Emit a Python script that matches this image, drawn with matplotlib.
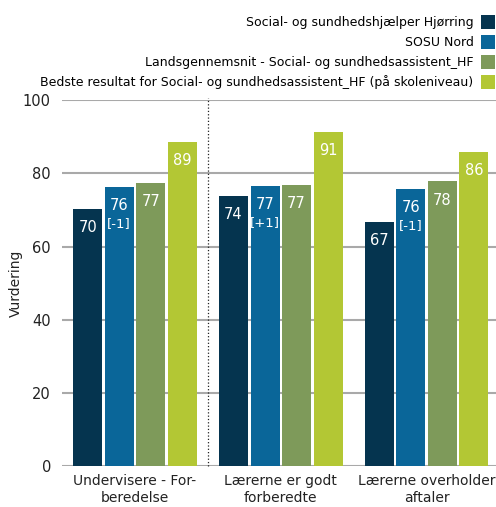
import matplotlib.pyplot as plt
import numpy as np

# data
categories = ["Undervisere - For-\nberedelse", "Lærerne er godt\nforberedte", "Lærerne overholder\naftaler"]
series = [
	"Social- og sundhedshjælper Hjørring",
	"SOSU Nord",
	"Landsgennemsnit - Social- og sundhedsassistent_HF",
	"Bedste resultat for Social- og sundhedsassistent_HF (på skoleniveau)",
]
hjorring = [70.3, 73.9, 66.8]
sosu_nord = [76.4, 76.6, 75.8]
lands = [77.5, 76.9, 77.8]
bedste = [88.7, 91.4, 85.9]
# printed labels on the bars
hjorring_lbl = [70, 74, 67]
sosu_nord_lbl = [76, 77, 76]
lands_lbl = [77, 77, 78]
bedste_lbl = [89, 91, 86]
sosu_change = ["[-1]", "[+1]", "[-1]"]

colors = ['#05344F', '#0A6699', '#7E9A5A', '#B3C734']
values = [hjorring, sosu_nord, lands, bedste]
labels = [hjorring_lbl, sosu_nord_lbl, lands_lbl, bedste_lbl]

fig = plt.figure(figsize=(4.96, 5.07), dpi=100)
ax = fig.add_axes([0.125, 0.0815, 0.875, 0.7205])

x = np.arange(len(categories))
pitch = 0.216
width = 0.199
for i, (vals, lbls, col, name) in enumerate(zip(values, labels, colors, series)):
	pos = x + (i - 1.5) * pitch
	ax.bar(pos, vals, width, color=col, label=name, zorder=3)
	for j, v in enumerate(vals):
		ax.annotate(f"{lbls[j]}", (pos[j], v), xytext=(0, -13.5), textcoords='offset points',
			ha='center', va='center', color='white', fontsize=10.5, zorder=4)
		if i == 1:
			ax.annotate(sosu_change[j], (pos[j], v), xytext=(0, -26.5), textcoords='offset points',
				ha='center', va='center', color='white', fontsize=9.5, zorder=4)

ax.set_xlim(-0.5, 2.475)
ax.set_ylim(0, 100)
ax.set_yticks([0, 20, 40, 60, 80, 100])
ax.set_xticks(x)
ax.set_xticklabels(categories, fontsize=10, color='#222222', linespacing=1.3)
ax.tick_params(axis='y', labelsize=10.5, length=0, pad=8, colors='#222222')
ax.tick_params(axis='x', length=0, pad=6)
ax.set_ylabel("Vurdering", fontsize=10, color='#222222')
ax.yaxis.set_label_coords(-0.09, 0.5)
ax.grid(axis='y', color='#A9A9A9', linewidth=1.5, zorder=0)
for s in ax.spines.values():
	s.set_visible(False)

# dotted separator between first and second group
ax.plot([0.5, 0.5], [0, 100.7], color='#222222', linestyle=':', linewidth=0.9, clip_on=False, zorder=2)

ax.legend(loc='upper right', bbox_to_anchor=(1.02, 0.992), bbox_transform=fig.transFigure,
	markerfirst=False, frameon=False, fontsize=9.0, handlelength=1.1, handleheight=1.3,
	handletextpad=0.6, labelspacing=0.47, borderaxespad=0.0, borderpad=0.9)

fig.savefig("out.png", dpi=100)
